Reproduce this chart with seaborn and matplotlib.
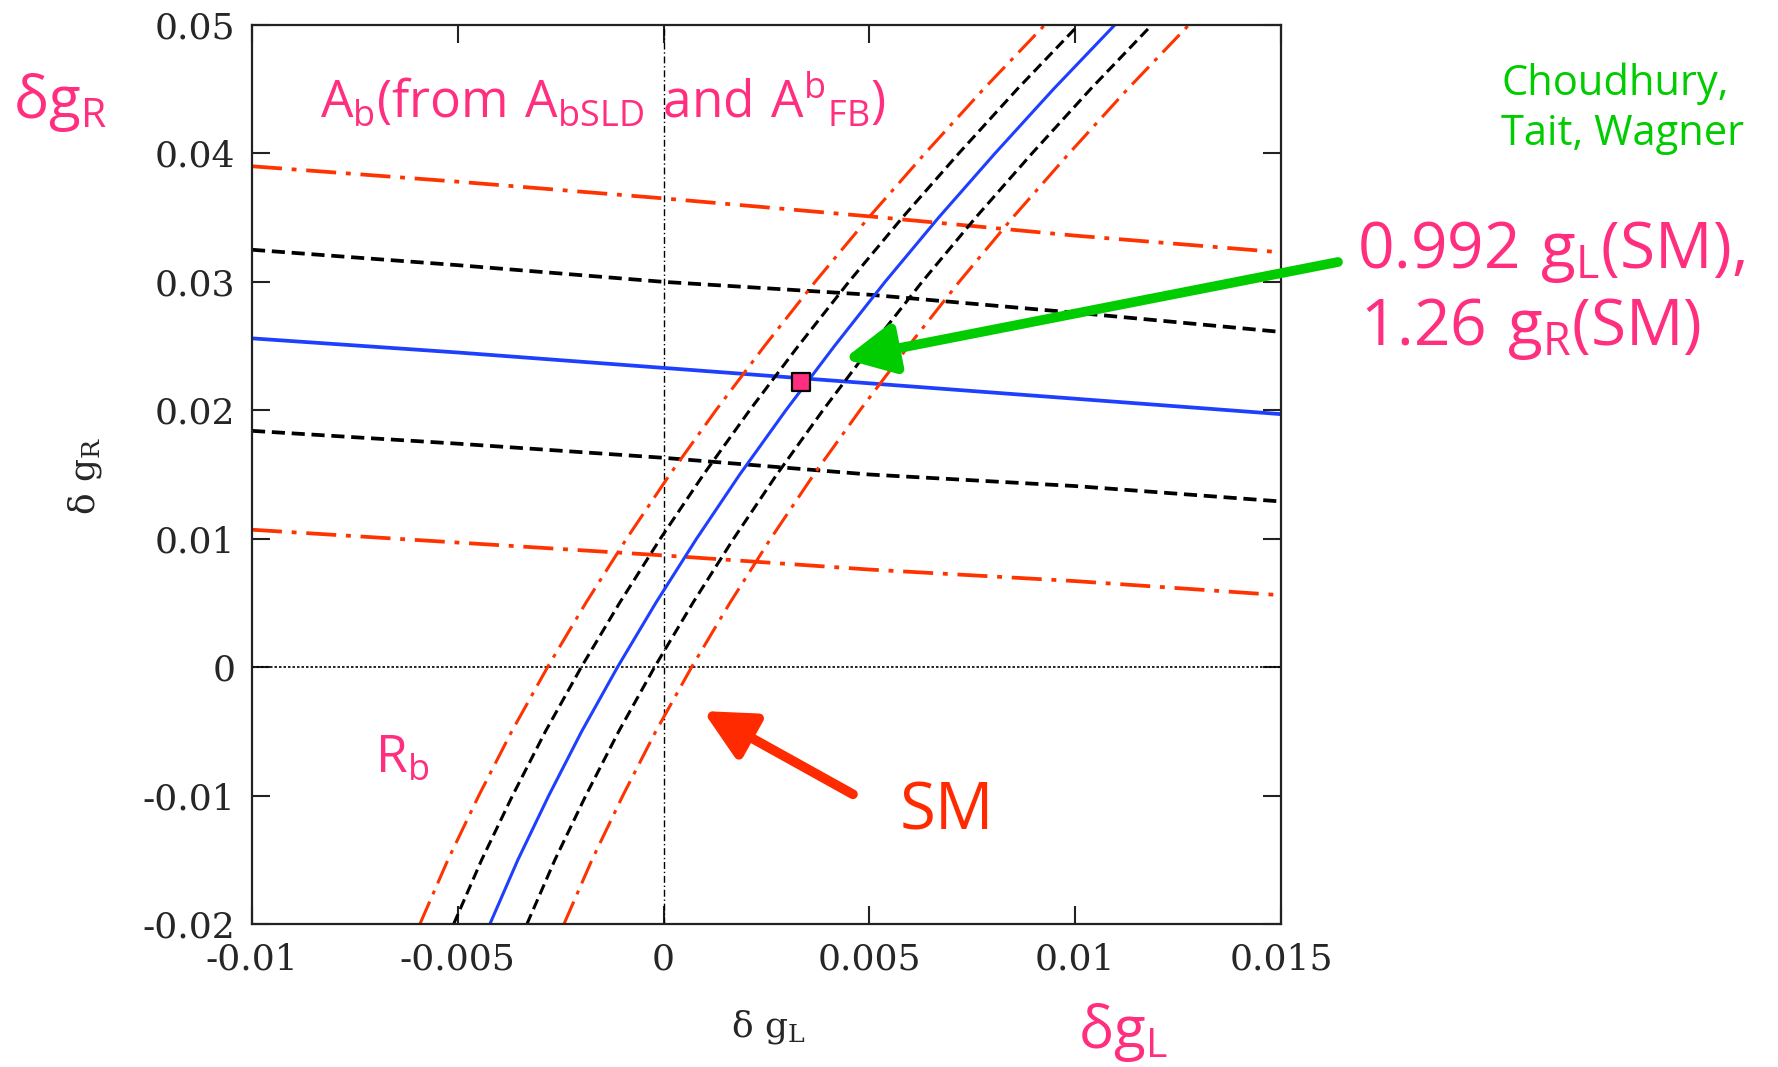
import matplotlib
matplotlib.use("Agg")
import matplotlib.pyplot as plt
import seaborn as sns

# A_b bands: delta g_R as a function of delta g_L
gl_grid = [-0.01, -0.005, 0.0, 0.005, 0.01, 0.015]
ab_red_upper = [0.0390, 0.0378, 0.0365, 0.0351, 0.0336, 0.0323]
ab_black_upper = [0.0325, 0.0313, 0.0300, 0.0290, 0.0276, 0.0261]
ab_blue = [0.0256, 0.0245, 0.0233, 0.0221, 0.0209, 0.0197]
ab_black_lower = [0.0184, 0.0174, 0.0163, 0.0150, 0.0141, 0.0129]
ab_red_lower = [0.0107, 0.0097, 0.0087, 0.0076, 0.0067, 0.0056]

# R_b bands: delta g_L as a function of delta g_R
gr_grid = [-0.02, -0.015, -0.01, -0.005, 0.0, 0.005, 0.01, 0.015,
           0.02, 0.025, 0.03, 0.035, 0.04, 0.045, 0.05]
rb_red_left = [-0.00592, -0.00524, -0.00449, -0.00369, -0.00282, -0.00189,
               -0.00090, 0.00015, 0.00127, 0.00245, 0.00368, 0.00498,
               0.00635, 0.00777, 0.00926]
rb_black_left = [-0.00510, -0.00442, -0.00367, -0.00287, -0.00200, -0.00107,
                 -0.00008, 0.00097, 0.00209, 0.00327, 0.00450, 0.00580,
                 0.00717, 0.00859, 0.01008]
rb_blue = [-0.00422, -0.00354, -0.00279, -0.00199, -0.00112, -0.00019,
           0.00080, 0.00185, 0.00297, 0.00415, 0.00538, 0.00668,
           0.00805, 0.00947, 0.01096]
rb_black_right = [-0.00332, -0.00264, -0.00189, -0.00109, -0.00022, 0.00071,
                  0.00170, 0.00275, 0.00387, 0.00505, 0.00628, 0.00758,
                  0.00895, 0.01037, 0.01186]
rb_red_right = [-0.00242, -0.00174, -0.00099, -0.00019, 0.00068, 0.00161,
                0.00260, 0.00365, 0.00477, 0.00595, 0.00718, 0.00848,
                0.00985, 0.01127, 0.01276]

# best-fit point (0.992 g_L(SM), 1.26 g_R(SM))
fit_gl = [0.00335]
fit_gr = [0.0222]

x_ticks = [-0.01, -0.005, 0.0, 0.005, 0.01, 0.015]
x_tick_labels = ["-0.01", "-0.005", "0", "0.005", "0.01", "0.015"]
y_ticks = [-0.02, -0.01, 0.0, 0.01, 0.02, 0.03, 0.04, 0.05]
y_tick_labels = ["-0.02", "-0.01", "0", "0.01", "0.02", "0.03", "0.04", "0.05"]

PINK = "#FF2E7E"
GREEN = "#00CC00"
SM_RED = "#FF2A00"
LINE_RED = "#FF3300"
LINE_BLUE = "#1F3FFF"
LINE_BLACK = "#000000"

SERIF = ["DejaVu Serif", "Liberation Serif"]
SANS = ["Open Sans", "DejaVu Sans"]

sns.set_theme(style="ticks")
plt.rcParams["font.family"] = SERIF

W, H = 1778, 1067
fig = plt.figure(figsize=(W / 100, H / 100), dpi=100)
ax = fig.add_axes([252 / W, 1 - 924 / H, (1281 - 252) / W, (924 - 25) / H])

DASH = (3.5, 1.8)
DASHDOT = (8, 2.6, 1.3, 2.6)
LW_AB = 2.7
LW_RB = 2.2

ab_styles = [
    (ab_red_upper, LINE_RED, DASHDOT),
    (ab_black_upper, LINE_BLACK, DASH),
    (ab_blue, LINE_BLUE, None),
    (ab_black_lower, LINE_BLACK, DASH),
    (ab_red_lower, LINE_RED, DASHDOT),
]
for vals, col, dash in ab_styles:
    sns.lineplot(x=gl_grid, y=vals, ax=ax, color=col, lw=LW_AB,
                 estimator=None, sort=False)
    if dash is not None:
        ax.lines[-1].set_dashes(dash)

rb_styles = [
    (rb_red_left, LINE_RED, DASHDOT),
    (rb_black_left, LINE_BLACK, DASH),
    (rb_blue, LINE_BLUE, None),
    (rb_black_right, LINE_BLACK, DASH),
    (rb_red_right, LINE_RED, DASHDOT),
]
for vals, col, dash in rb_styles:
    sns.lineplot(x=vals, y=gr_grid, ax=ax, color=col, lw=LW_RB,
                 estimator=None, sort=False, orient="y")
    if dash is not None:
        ax.lines[-1].set_dashes(dash)

# reference axes through the origin
ax.axvline(0.0, color="black", lw=1.0, dashes=(5, 2, 1, 2), zorder=1)
ax.axhline(0.0, color="black", lw=1.2, dashes=(1.5, 1.2), zorder=1)

sns.scatterplot(x=fit_gl, y=fit_gr, ax=ax, marker="s", s=150, color=PINK,
                edgecolor="black", linewidth=1.6, zorder=10)

ax.set_xlim(-0.01, 0.015)
ax.set_ylim(-0.02, 0.05)
ax.set_xticks(x_ticks)
ax.set_xticklabels(x_tick_labels)
ax.set_yticks(y_ticks)
ax.set_yticklabels(y_tick_labels)
ax.tick_params(direction="in", length=13, width=1.5, labelsize=26,
               top=True, right=True, color="#222222")
ax.tick_params(axis="x", pad=13)
ax.tick_params(axis="y", pad=12)
for sp in ax.spines.values():
    sp.set_linewidth(1.6)
    sp.set_color("#222222")
ax.set_xlabel("")
ax.set_ylabel("")


def fx(px):
    return px / W


def fy(py):
    return 1 - py / H


# axis titles in the plot's serif face
fig.text(fx(769), fy(1037), r"$\mathdefault{δ\ g_L}$", fontsize=26,
         ha="center", va="baseline", family=SERIF)
fig.text(fx(85), fy(476), r"$\mathdefault{δ\ g_R}$", fontsize=26, rotation=90,
         ha="center", va="center", family=SERIF)

fig.text(fx(13), fy(118), r"$\mathdefault{δg_R}$", fontsize=42, color=PINK,
         ha="left", va="baseline", family=SANS)
fig.text(fx(1078), fy(1048), r"$\mathdefault{δg_L}$", fontsize=42, color=PINK,
         ha="left", va="baseline", family=SANS)
fig.text(fx(320), fy(118),
         r"$\mathdefault{A_b(from\ A_{bSLD}\ and\ A^b{}_{FB})}$",
         fontsize=37, color=PINK, ha="left", va="baseline", family=SANS)
fig.text(fx(375), fy(772), r"$\mathdefault{R_b}$", fontsize=37, color=PINK,
         ha="left", va="baseline", family=SANS)
fig.text(fx(900), fy(830), "SM", fontsize=47, color=SM_RED,
         ha="left", va="baseline", family=SANS)
fig.text(fx(1357), fy(268), r"$\mathdefault{0.992\ g_L(SM),}$", fontsize=46,
         color=PINK, ha="left", va="baseline", family=SANS)
fig.text(fx(1360), fy(345), r"$\mathdefault{1.26\ g_R(SM)}$", fontsize=46,
         color=PINK, ha="left", va="baseline", family=SANS)
fig.text(fx(1501), fy(95), "Choudhury,", fontsize=30, color=GREEN,
         ha="left", va="baseline", family=SANS)
fig.text(fx(1501), fy(145), "Tait, Wagner", fontsize=30, color=GREEN,
         ha="left", va="baseline", family=SANS)

# arrows
ax.annotate("", xy=(0.00438, 0.0240), xycoords="data",
            xytext=(fx(1338), fy(262)), textcoords="figure fraction",
            arrowprops=dict(arrowstyle="-|>,head_length=0.6,head_width=0.3",
                            lw=7, color=GREEN, mutation_scale=50,
                            shrinkA=0, shrinkB=0), annotation_clip=False)
ax.annotate("", xy=(0.00096, -0.00342), xycoords="data",
            xytext=(0.0046, -0.0099), textcoords="data",
            arrowprops=dict(arrowstyle="-|>,head_length=0.6,head_width=0.3",
                            lw=7, color=SM_RED, mutation_scale=50,
                            shrinkA=0, shrinkB=0))

fig.savefig("out.png", dpi=100, facecolor="white")
